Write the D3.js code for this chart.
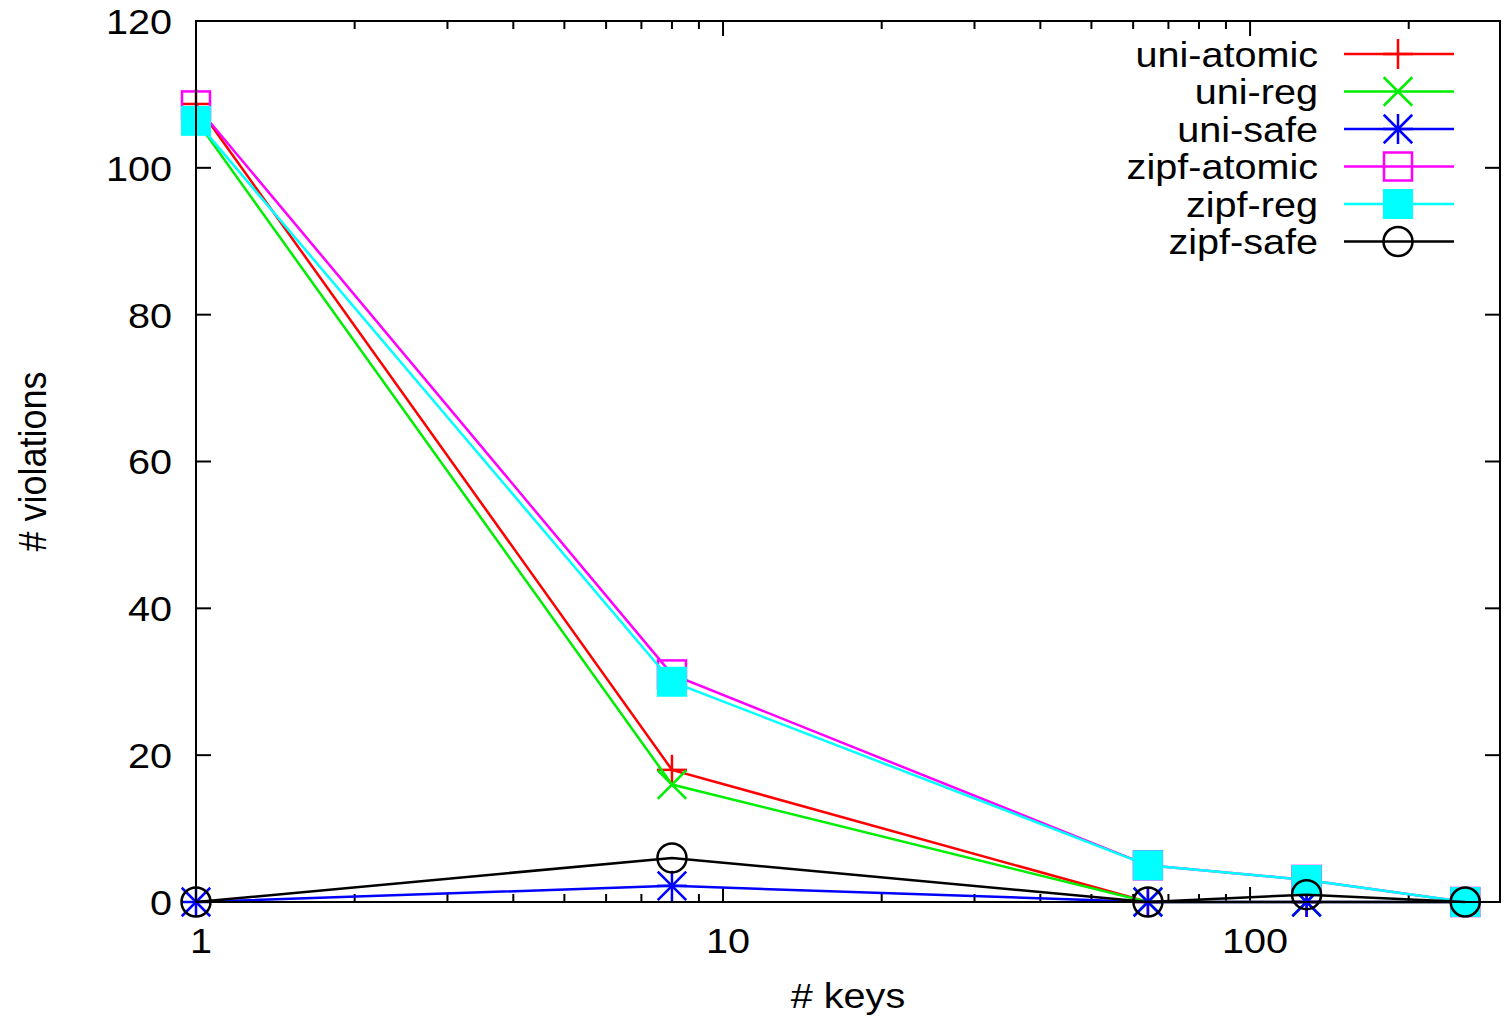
<!DOCTYPE html>
<html>
<head>
<meta charset="utf-8">
<script src="https://cdn.jsdelivr.net/npm/d3@7"></script>
<style>
  body { margin: 0; background: #fff; }
  text { font-family: "Liberation Sans", Arial, sans-serif; fill: #000; }
</style>
</head>
<body>
<div id="chart"></div>
<script>

// data
var keys = [1, 8, 64, 128, 256];
var uniAtomic = [108.7, 18, 0, 0, 0];
var uniReg = [106.5, 16, 0, 0, 0];
var uniSafe = [0, 2.2, 0, 0, 0];
var zipfAtomic = [108.5, 31, 5, 3, 0];
var zipfReg = [106.4, 30, 5, 3, 0];
var zipfSafe = [0, 6, 0, 1, 0];

var seriesNames = ["uni-atomic", "uni-reg", "uni-safe", "zipf-atomic", "zipf-reg", "zipf-safe"];
var seriesValues = [uniAtomic, uniReg, uniSafe, zipfAtomic, zipfReg, zipfSafe];
var seriesColors = ["#ff0000", "#00ee00", "#0000ff", "#ff00ff", "#00ffff", "#000000"];
var seriesMarks = ["plus", "cross", "star", "square", "fsquare", "circle"];

var yTicks = [0, 20, 40, 60, 80, 100, 120];
var xTicks = [1, 10, 100];

var width = 1509, height = 1018;
var margin = {top: 21, right: 9, bottom: 116, left: 196};

var svg = d3.select("#chart").append("svg")
    .attr("width", width)
    .attr("height", height);

var x = d3.scaleLog()
    .domain([1, 298])
    .range([margin.left, width - margin.right]);

var y = d3.scaleLinear()
    .domain([0, 120])
    .range([height - margin.bottom, margin.top]);

var x0 = x.range()[0], x1 = x.range()[1];
var y0 = y.range()[0], y1 = y.range()[1];

var fontSize = 36;
var stretch = 1.1; // the original font is a bit wider

// text placed at (tx, ty), widened along x
function label(parent, tx, ty, str, anchor, rot) {
    var t = "translate(" + tx + "," + ty + ")";
    t += rot ? " rotate(" + rot + ") scale(1," + stretch + ")" : " scale(" + stretch + ",1)";
    return parent.append("text")
        .attr("transform", t)
        .attr("text-anchor", anchor)
        .attr("font-size", fontSize)
        .text(str);
}

// ticks (in, mirrored on all sides)
var tickG = svg.append("g").attr("stroke", "#000").attr("stroke-width", 2);

yTicks.forEach(function(v) {
    tickG.append("line").attr("x1", x0).attr("x2", x0 + 15).attr("y1", y(v)).attr("y2", y(v));
    tickG.append("line").attr("x1", x1).attr("x2", x1 - 15).attr("y1", y(v)).attr("y2", y(v));
    label(svg, x0 - 24, y(v), v, "end").attr("dy", "0.36em");
});

var minor = [];
[1, 10, 100].forEach(function(d) {
    for (var k = 2; k <= 9; k++) {
        if (d * k <= 298) minor.push(d * k);
    }
});

xTicks.forEach(function(v) {
    tickG.append("line").attr("x1", x(v)).attr("x2", x(v)).attr("y1", y0).attr("y2", y0 - 15);
    tickG.append("line").attr("x1", x(v)).attr("x2", x(v)).attr("y1", y1).attr("y2", y1 + 15);
    label(svg, x(v) + 5, 953, v, "middle");
});

minor.forEach(function(v) {
    tickG.append("line").attr("x1", x(v)).attr("x2", x(v)).attr("y1", y0).attr("y2", y0 - 8);
    tickG.append("line").attr("x1", x(v)).attr("x2", x(v)).attr("y1", y1).attr("y2", y1 + 8);
});

// axis titles
label(svg, 46, (y0 + y1) / 2, "# violations", "middle", -90);
label(svg, 848, 1008, "# keys", "middle");

// marker drawing
function drawMark(g, type, cx, cy, color) {
    var r = 15;
    var m = g.append("g").attr("stroke", color).attr("stroke-width", 2.5).attr("fill", "none");
    if (type == "plus" || type == "star") {
        m.append("line").attr("x1", cx - r).attr("x2", cx + r).attr("y1", cy).attr("y2", cy);
        m.append("line").attr("x1", cx).attr("x2", cx).attr("y1", cy - r).attr("y2", cy + r);
    }
    if (type == "cross" || type == "star") {
        var q = r * 0.95;
        m.append("line").attr("x1", cx - q).attr("x2", cx + q).attr("y1", cy - q).attr("y2", cy + q);
        m.append("line").attr("x1", cx - q).attr("x2", cx + q).attr("y1", cy + q).attr("y2", cy - q);
    }
    if (type == "square") {
        m.append("rect").attr("x", cx - r + 1).attr("y", cy - r + 1).attr("width", 2 * r - 2).attr("height", 2 * r - 2);
    }
    if (type == "fsquare") {
        m.append("rect").attr("x", cx - r).attr("y", cy - r).attr("width", 2 * r).attr("height", 2 * r)
            .attr("fill", color).attr("stroke", "none");
    }
    if (type == "circle") {
        m.append("circle").attr("cx", cx).attr("cy", cy).attr("r", r - 0.5);
    }
}

var line = d3.line()
    .x(function(d) { return x(d[0]); })
    .y(function(d) { return y(d[1]); });

seriesNames.forEach(function(name, i) {
    var pts = keys.map(function(k, j) { return [k, seriesValues[i][j]]; });
    var g = svg.append("g");
    g.append("path")
        .attr("d", line(pts))
        .attr("fill", "none")
        .attr("stroke", seriesColors[i])
        .attr("stroke-width", 2.5);
    pts.forEach(function(p) {
        drawMark(g, seriesMarks[i], x(p[0]), y(p[1]), seriesColors[i]);
    });
});

// legend
var legend = svg.append("g");
seriesNames.forEach(function(name, i) {
    var ly = 54 + i * 37.5;
    label(legend, 1318, ly, name, "end").attr("dy", "0.36em");
    legend.append("line")
        .attr("x1", 1344).attr("x2", 1454)
        .attr("y1", ly).attr("y2", ly)
        .attr("stroke", seriesColors[i])
        .attr("stroke-width", 2.5);
    drawMark(legend, seriesMarks[i], 1398, ly, seriesColors[i]);
});

// frame
svg.append("rect")
    .attr("x", x0)
    .attr("y", y1)
    .attr("width", x1 - x0)
    .attr("height", y0 - y1)
    .attr("fill", "none")
    .attr("stroke", "#000")
    .attr("stroke-width", 2);

</script>
</body>
</html>
